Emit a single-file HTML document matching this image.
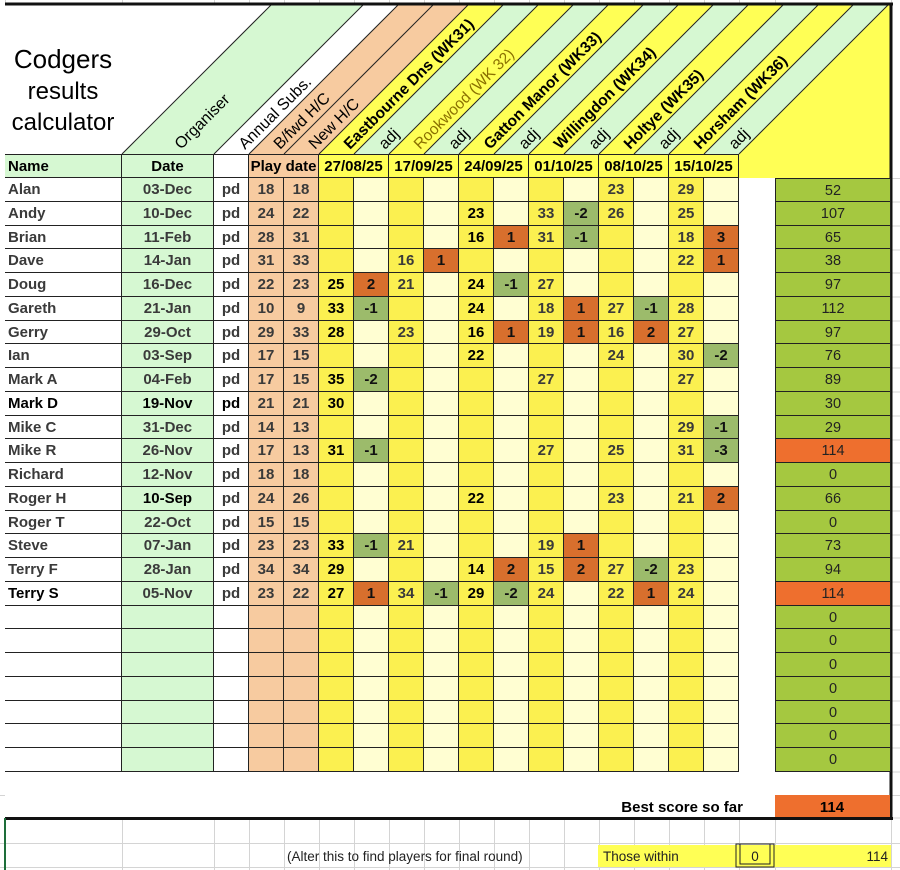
<!DOCTYPE html>
<html><head><meta charset="utf-8"><style>
*{margin:0;padding:0;box-sizing:border-box}
body{width:900px;height:870px;background:#fff;position:relative;overflow:hidden;font-family:"Liberation Sans",Arial,sans-serif}
.grid{position:absolute;left:5px;display:grid;grid-template-columns:117px 92px 35px 35px 35px repeat(12,35px) 36px 116px}
#body{top:178px;grid-auto-rows:23.76px}
#body>div{border-right:1px solid #222;border-bottom:1px solid #222;font-size:15px;font-weight:bold;color:#3a3a3a;text-align:center;line-height:23px;white-space:nowrap;overflow:hidden}
.n{text-align:left!important;padding-left:3px;background:#fff}
.d{background:#d6f8d2}.p{background:#fff}.h{background:#f7cba0}
.c{background:#fbf050}.a{background:#fffed2;color:#111!important}
.o{background:#d86f2d!important}.v{background:#9cbb6b!important}
.k{color:#000!important}
#body>.g{border:none!important;background:#fff}
#body>.t{border-left:1px solid #222;background:#a5c840;font-weight:normal!important;color:#222!important;font-size:14.5px!important;line-height:25px}
#body>.t.r{background:#ee6f2e}
#body>.t.f{border-top:1px solid #222}
#hdr{top:154px;grid-template-rows:24px}
#hdr>div{font-size:15px;font-weight:bold;color:#000;line-height:23px;text-align:center;border-right:1px solid #222;border-top:1px solid #222;border-bottom:1px solid #222;white-space:nowrap}
.abs{position:absolute}
</style></head><body>
<svg class="abs" style="left:0;top:0" width="900" height="870">
<g stroke="#d4d4d4" stroke-width="1">
<line x1="5.5" y1="0" x2="5.5" y2="870"/><line x1="122.5" y1="0" x2="122.5" y2="870"/><line x1="214.5" y1="0" x2="214.5" y2="870"/><line x1="249.5" y1="0" x2="249.5" y2="870"/><line x1="284.5" y1="0" x2="284.5" y2="870"/><line x1="319.5" y1="0" x2="319.5" y2="870"/><line x1="354.5" y1="0" x2="354.5" y2="870"/><line x1="389.5" y1="0" x2="389.5" y2="870"/><line x1="424.5" y1="0" x2="424.5" y2="870"/><line x1="459.5" y1="0" x2="459.5" y2="870"/><line x1="494.5" y1="0" x2="494.5" y2="870"/><line x1="529.5" y1="0" x2="529.5" y2="870"/><line x1="564.5" y1="0" x2="564.5" y2="870"/><line x1="599.5" y1="0" x2="599.5" y2="870"/><line x1="634.5" y1="0" x2="634.5" y2="870"/><line x1="669.5" y1="0" x2="669.5" y2="870"/><line x1="704.5" y1="0" x2="704.5" y2="870"/><line x1="739.5" y1="0" x2="739.5" y2="870"/><line x1="775.5" y1="0" x2="775.5" y2="870"/><line x1="891.5" y1="0" x2="891.5" y2="870"/>
<line x1="0" y1="795.5" x2="900" y2="795.5"/><line x1="0" y1="843.5" x2="900" y2="843.5"/><line x1="0" y1="867.5" x2="900" y2="867.5"/>
<line x1="891" y1="178.5" x2="900" y2="178.5"/><line x1="891" y1="202" x2="900" y2="202"/><line x1="891" y1="226" x2="900" y2="226"/><line x1="891" y1="250" x2="900" y2="250"/><line x1="891" y1="273" x2="900" y2="273"/><line x1="891" y1="297" x2="900" y2="297"/><line x1="891" y1="321" x2="900" y2="321"/><line x1="891" y1="345" x2="900" y2="345"/><line x1="891" y1="368" x2="900" y2="368"/><line x1="891" y1="392" x2="900" y2="392"/><line x1="891" y1="416" x2="900" y2="416"/><line x1="891" y1="440" x2="900" y2="440"/><line x1="891" y1="463" x2="900" y2="463"/><line x1="891" y1="487" x2="900" y2="487"/><line x1="891" y1="511" x2="900" y2="511"/><line x1="891" y1="535" x2="900" y2="535"/><line x1="891" y1="558" x2="900" y2="558"/><line x1="891" y1="582" x2="900" y2="582"/><line x1="891" y1="606" x2="900" y2="606"/><line x1="891" y1="630" x2="900" y2="630"/><line x1="891" y1="653" x2="900" y2="653"/><line x1="891" y1="677" x2="900" y2="677"/><line x1="891" y1="701" x2="900" y2="701"/><line x1="891" y1="725" x2="900" y2="725"/><line x1="891" y1="748" x2="900" y2="748"/><line x1="891" y1="772" x2="900" y2="772"/><line x1="891" y1="818" x2="900" y2="818"/>
</g>
<rect x="5" y="5" width="886" height="813" fill="#fff"/>
<g clip-path="url(#cp)">
<clipPath id="cp"><rect x="5" y="5" width="886" height="173"/></clipPath>
<polygon points="122,154 214,154 363,5 271,5" fill="#d6f8d2"/>
<polygon points="249,154 319,154 468,5 398,5" fill="#f7cba0"/>
<polygon points="319,154 354,154 503,5 468,5" fill="#ffff55"/>
<polygon points="354,154 389,154 538,5 503,5" fill="#d6f8d2"/>
<polygon points="389,154 424,154 573,5 538,5" fill="#ffff55"/>
<polygon points="424,154 459,154 608,5 573,5" fill="#d6f8d2"/>
<polygon points="459,154 494,154 643,5 608,5" fill="#ffff55"/>
<polygon points="494,154 529,154 678,5 643,5" fill="#d6f8d2"/>
<polygon points="529,154 564,154 713,5 678,5" fill="#ffff55"/>
<polygon points="564,154 599,154 748,5 713,5" fill="#d6f8d2"/>
<polygon points="599,154 634,154 783,5 748,5" fill="#ffff55"/>
<polygon points="634,154 669,154 818,5 783,5" fill="#d6f8d2"/>
<polygon points="669,154 704,154 853,5 818,5" fill="#ffff55"/>
<polygon points="704,154 739,154 888,5 853,5" fill="#d6f8d2"/>
<polygon points="739,154 891,154 891,5 888,5" fill="#ffff55"/>
<rect x="739" y="154" width="152" height="24" fill="#ffff55"/>
<g stroke="#222" stroke-width="1">
<line x1="122" y1="154" x2="271" y2="5"/><line x1="214" y1="154" x2="363" y2="5"/><line x1="249" y1="154" x2="398" y2="5"/><line x1="284" y1="154" x2="433" y2="5"/><line x1="319" y1="154" x2="468" y2="5"/><line x1="354" y1="154" x2="503" y2="5"/><line x1="389" y1="154" x2="538" y2="5"/><line x1="424" y1="154" x2="573" y2="5"/><line x1="459" y1="154" x2="608" y2="5"/><line x1="494" y1="154" x2="643" y2="5"/><line x1="529" y1="154" x2="678" y2="5"/><line x1="564" y1="154" x2="713" y2="5"/><line x1="599" y1="154" x2="748" y2="5"/><line x1="634" y1="154" x2="783" y2="5"/><line x1="669" y1="154" x2="818" y2="5"/><line x1="704" y1="154" x2="853" y2="5"/><line x1="739" y1="154" x2="888" y2="5"/>
</g>
<g font-family="Liberation Sans, Arial, sans-serif" font-size="16" fill="#000">
<text transform="translate(181,150) rotate(-45)">Organiser</text>
<text transform="translate(245,150) rotate(-45)">Annual Subs.</text>
<text transform="translate(280,150) rotate(-45)">B/fwd H/C</text>
<text transform="translate(315,150) rotate(-45)">New H/C</text>
<text transform="translate(350,150) rotate(-45)" font-weight="bold" font-size="15.5">Eastbourne Dns (WK31)</text>
<text transform="translate(385,150) rotate(-45)">adj</text>
<text transform="translate(420,150) rotate(-45)" fill="#8a7000" font-size="15.5">Rookwood (WK 32)</text>
<text transform="translate(455,150) rotate(-45)">adj</text>
<text transform="translate(490,150) rotate(-45)" font-weight="bold" font-size="15.5">Gatton Manor (WK33)</text>
<text transform="translate(525,150) rotate(-45)">adj</text>
<text transform="translate(560,150) rotate(-45)" font-weight="bold" font-size="15.5">Willingdon (WK34)</text>
<text transform="translate(595,150) rotate(-45)">adj</text>
<text transform="translate(630,150) rotate(-45)" font-weight="bold" font-size="15.5">Holtye (WK35)</text>
<text transform="translate(665,150) rotate(-45)">adj</text>
<text transform="translate(700,150) rotate(-45)" font-weight="bold" font-size="15.5">Horsham (WK36)</text>
<text transform="translate(735,150) rotate(-45)">adj</text>
</g>
</g>
<g font-family="Liberation Sans, Arial, sans-serif" font-size="26" fill="#000" text-anchor="middle">
<text x="63" y="68">Codgers</text><text x="63" y="99" font-size="24">results</text><text x="63" y="130" font-size="24">calculator</text>
</g>
<line x1="5" y1="154.5" x2="739" y2="154.5" stroke="#222"/>
<line x1="5" y1="4" x2="893" y2="4" stroke="#111" stroke-width="3"/>
<line x1="891" y1="3" x2="891" y2="819" stroke="#111" stroke-width="3"/>
<line x1="5" y1="818.5" x2="893" y2="818.5" stroke="#111" stroke-width="3"/>
<line x1="5" y1="818" x2="5" y2="870" stroke="#1e6e3a" stroke-width="2"/>
<rect x="775" y="795" width="115" height="22" fill="#ee6f2e"/>
<text x="832" y="812" text-anchor="middle" font-family="Liberation Sans, Arial, sans-serif" font-size="15" font-weight="bold">114</text>
<text x="743" y="812" text-anchor="end" font-family="Liberation Sans, Arial, sans-serif" font-size="15" font-weight="bold">Best score so far</text>
<text x="287" y="861" font-family="Liberation Sans, Arial, sans-serif" font-size="13.5" fill="#222">(Alter this to find players for final round)</text>
<rect x="598" y="845" width="293" height="22" fill="#ffff55"/>
<text x="603" y="861" font-family="Liberation Sans, Arial, sans-serif" font-size="13.5" fill="#222">Those within</text>
<rect x="736" y="844" width="38" height="23" fill="none" stroke="#222" stroke-width="1"/>
<rect x="740" y="844" width="30" height="20" fill="none" stroke="#222" stroke-width="1"/>
<text x="755" y="861" text-anchor="middle" font-family="Liberation Sans, Arial, sans-serif" font-size="13.5" fill="#222">0</text>
<text x="888" y="861" text-anchor="end" font-family="Liberation Sans, Arial, sans-serif" font-size="13.5" fill="#222">114</text>
</svg>

<div id="hdr" class="grid">
<div style="background:#d6f8d2;text-align:left;padding-left:3px">Name</div>
<div style="background:#d6f8d2">Date</div>
<div style="background:#fff"></div>
<div style="background:#f7cba0;grid-column:span 2">Play date</div>
<div style="background:#ffff55;grid-column:span 2">27/08/25</div>
<div style="background:#ffff55;grid-column:span 2">17/09/25</div>
<div style="background:#ffff55;grid-column:span 2">24/09/25</div>
<div style="background:#ffff55;grid-column:span 2">01/10/25</div>
<div style="background:#ffff55;grid-column:span 2">08/10/25</div>
<div style="background:#ffff55;grid-column:span 2">15/10/25</div>
</div>

<div id="body" class="grid">
<div class="n">Alan</div><div class="d">03-Dec</div><div class="p">pd</div><div class="h">18</div><div class="h">18</div><div class="c"></div><div class="a"></div><div class="c"></div><div class="a"></div><div class="c"></div><div class="a"></div><div class="c"></div><div class="a"></div><div class="c">23</div><div class="a"></div><div class="c">29</div><div class="a"></div><div class="g"></div><div class="t f">52</div>
<div class="n">Andy</div><div class="d">10-Dec</div><div class="p">pd</div><div class="h">24</div><div class="h">22</div><div class="c"></div><div class="a"></div><div class="c"></div><div class="a"></div><div class="c k">23</div><div class="a"></div><div class="c">33</div><div class="a v">-2</div><div class="c">26</div><div class="a"></div><div class="c">25</div><div class="a"></div><div class="g"></div><div class="t">107</div>
<div class="n">Brian</div><div class="d">11-Feb</div><div class="p">pd</div><div class="h">28</div><div class="h">31</div><div class="c"></div><div class="a"></div><div class="c"></div><div class="a"></div><div class="c k">16</div><div class="a o">1</div><div class="c">31</div><div class="a v">-1</div><div class="c"></div><div class="a"></div><div class="c">18</div><div class="a o">3</div><div class="g"></div><div class="t">65</div>
<div class="n">Dave</div><div class="d">14-Jan</div><div class="p">pd</div><div class="h">31</div><div class="h">33</div><div class="c"></div><div class="a"></div><div class="c">16</div><div class="a o">1</div><div class="c"></div><div class="a"></div><div class="c"></div><div class="a"></div><div class="c"></div><div class="a"></div><div class="c">22</div><div class="a o">1</div><div class="g"></div><div class="t">38</div>
<div class="n">Doug</div><div class="d">16-Dec</div><div class="p">pd</div><div class="h">22</div><div class="h">23</div><div class="c k">25</div><div class="a o">2</div><div class="c">21</div><div class="a"></div><div class="c k">24</div><div class="a v">-1</div><div class="c">27</div><div class="a"></div><div class="c"></div><div class="a"></div><div class="c"></div><div class="a"></div><div class="g"></div><div class="t">97</div>
<div class="n">Gareth</div><div class="d">21-Jan</div><div class="p">pd</div><div class="h">10</div><div class="h">9</div><div class="c k">33</div><div class="a v">-1</div><div class="c"></div><div class="a"></div><div class="c k">24</div><div class="a"></div><div class="c">18</div><div class="a o">1</div><div class="c">27</div><div class="a v">-1</div><div class="c">28</div><div class="a"></div><div class="g"></div><div class="t">112</div>
<div class="n">Gerry</div><div class="d">29-Oct</div><div class="p">pd</div><div class="h">29</div><div class="h">33</div><div class="c k">28</div><div class="a"></div><div class="c">23</div><div class="a"></div><div class="c k">16</div><div class="a o">1</div><div class="c">19</div><div class="a o">1</div><div class="c">16</div><div class="a o">2</div><div class="c">27</div><div class="a"></div><div class="g"></div><div class="t">97</div>
<div class="n">Ian</div><div class="d">03-Sep</div><div class="p">pd</div><div class="h">17</div><div class="h">15</div><div class="c"></div><div class="a"></div><div class="c"></div><div class="a"></div><div class="c k">22</div><div class="a"></div><div class="c"></div><div class="a"></div><div class="c">24</div><div class="a"></div><div class="c">30</div><div class="a v">-2</div><div class="g"></div><div class="t">76</div>
<div class="n">Mark A</div><div class="d">04-Feb</div><div class="p">pd</div><div class="h">17</div><div class="h">15</div><div class="c k">35</div><div class="a v">-2</div><div class="c"></div><div class="a"></div><div class="c"></div><div class="a"></div><div class="c">27</div><div class="a"></div><div class="c"></div><div class="a"></div><div class="c">27</div><div class="a"></div><div class="g"></div><div class="t">89</div>
<div class="n k">Mark D</div><div class="d k">19-Nov</div><div class="p k">pd</div><div class="h">21</div><div class="h">21</div><div class="c k">30</div><div class="a"></div><div class="c"></div><div class="a"></div><div class="c"></div><div class="a"></div><div class="c"></div><div class="a"></div><div class="c"></div><div class="a"></div><div class="c"></div><div class="a"></div><div class="g"></div><div class="t">30</div>
<div class="n">Mike C</div><div class="d">31-Dec</div><div class="p">pd</div><div class="h">14</div><div class="h">13</div><div class="c"></div><div class="a"></div><div class="c"></div><div class="a"></div><div class="c"></div><div class="a"></div><div class="c"></div><div class="a"></div><div class="c"></div><div class="a"></div><div class="c">29</div><div class="a v">-1</div><div class="g"></div><div class="t">29</div>
<div class="n">Mike R</div><div class="d">26-Nov</div><div class="p">pd</div><div class="h">17</div><div class="h">13</div><div class="c k">31</div><div class="a v">-1</div><div class="c"></div><div class="a"></div><div class="c"></div><div class="a"></div><div class="c">27</div><div class="a"></div><div class="c">25</div><div class="a"></div><div class="c">31</div><div class="a v">-3</div><div class="g"></div><div class="t r">114</div>
<div class="n">Richard</div><div class="d">12-Nov</div><div class="p">pd</div><div class="h">18</div><div class="h">18</div><div class="c"></div><div class="a"></div><div class="c"></div><div class="a"></div><div class="c"></div><div class="a"></div><div class="c"></div><div class="a"></div><div class="c"></div><div class="a"></div><div class="c"></div><div class="a"></div><div class="g"></div><div class="t">0</div>
<div class="n">Roger H</div><div class="d k">10-Sep</div><div class="p">pd</div><div class="h">24</div><div class="h">26</div><div class="c"></div><div class="a"></div><div class="c"></div><div class="a"></div><div class="c k">22</div><div class="a"></div><div class="c"></div><div class="a"></div><div class="c">23</div><div class="a"></div><div class="c">21</div><div class="a o">2</div><div class="g"></div><div class="t">66</div>
<div class="n">Roger T</div><div class="d">22-Oct</div><div class="p">pd</div><div class="h">15</div><div class="h">15</div><div class="c"></div><div class="a"></div><div class="c"></div><div class="a"></div><div class="c"></div><div class="a"></div><div class="c"></div><div class="a"></div><div class="c"></div><div class="a"></div><div class="c"></div><div class="a"></div><div class="g"></div><div class="t">0</div>
<div class="n">Steve</div><div class="d">07-Jan</div><div class="p">pd</div><div class="h">23</div><div class="h">23</div><div class="c k">33</div><div class="a v">-1</div><div class="c">21</div><div class="a"></div><div class="c"></div><div class="a"></div><div class="c">19</div><div class="a o">1</div><div class="c"></div><div class="a"></div><div class="c"></div><div class="a"></div><div class="g"></div><div class="t">73</div>
<div class="n">Terry F</div><div class="d">28-Jan</div><div class="p">pd</div><div class="h">34</div><div class="h">34</div><div class="c k">29</div><div class="a"></div><div class="c"></div><div class="a"></div><div class="c k">14</div><div class="a o">2</div><div class="c">15</div><div class="a o">2</div><div class="c">27</div><div class="a v">-2</div><div class="c">23</div><div class="a"></div><div class="g"></div><div class="t">94</div>
<div class="n k">Terry S</div><div class="d">05-Nov</div><div class="p">pd</div><div class="h">23</div><div class="h">22</div><div class="c k">27</div><div class="a o">1</div><div class="c">34</div><div class="a v">-1</div><div class="c k">29</div><div class="a v">-2</div><div class="c">24</div><div class="a"></div><div class="c">22</div><div class="a o">1</div><div class="c">24</div><div class="a"></div><div class="g"></div><div class="t r">114</div>
<div class="n"></div><div class="d"></div><div class="p"></div><div class="h"></div><div class="h"></div><div class="c"></div><div class="a"></div><div class="c"></div><div class="a"></div><div class="c"></div><div class="a"></div><div class="c"></div><div class="a"></div><div class="c"></div><div class="a"></div><div class="c"></div><div class="a"></div><div class="g"></div><div class="t">0</div>
<div class="n"></div><div class="d"></div><div class="p"></div><div class="h"></div><div class="h"></div><div class="c"></div><div class="a"></div><div class="c"></div><div class="a"></div><div class="c"></div><div class="a"></div><div class="c"></div><div class="a"></div><div class="c"></div><div class="a"></div><div class="c"></div><div class="a"></div><div class="g"></div><div class="t">0</div>
<div class="n"></div><div class="d"></div><div class="p"></div><div class="h"></div><div class="h"></div><div class="c"></div><div class="a"></div><div class="c"></div><div class="a"></div><div class="c"></div><div class="a"></div><div class="c"></div><div class="a"></div><div class="c"></div><div class="a"></div><div class="c"></div><div class="a"></div><div class="g"></div><div class="t">0</div>
<div class="n"></div><div class="d"></div><div class="p"></div><div class="h"></div><div class="h"></div><div class="c"></div><div class="a"></div><div class="c"></div><div class="a"></div><div class="c"></div><div class="a"></div><div class="c"></div><div class="a"></div><div class="c"></div><div class="a"></div><div class="c"></div><div class="a"></div><div class="g"></div><div class="t">0</div>
<div class="n"></div><div class="d"></div><div class="p"></div><div class="h"></div><div class="h"></div><div class="c"></div><div class="a"></div><div class="c"></div><div class="a"></div><div class="c"></div><div class="a"></div><div class="c"></div><div class="a"></div><div class="c"></div><div class="a"></div><div class="c"></div><div class="a"></div><div class="g"></div><div class="t">0</div>
<div class="n"></div><div class="d"></div><div class="p"></div><div class="h"></div><div class="h"></div><div class="c"></div><div class="a"></div><div class="c"></div><div class="a"></div><div class="c"></div><div class="a"></div><div class="c"></div><div class="a"></div><div class="c"></div><div class="a"></div><div class="c"></div><div class="a"></div><div class="g"></div><div class="t">0</div>
<div class="n"></div><div class="d"></div><div class="p"></div><div class="h"></div><div class="h"></div><div class="c"></div><div class="a"></div><div class="c"></div><div class="a"></div><div class="c"></div><div class="a"></div><div class="c"></div><div class="a"></div><div class="c"></div><div class="a"></div><div class="c"></div><div class="a"></div><div class="g"></div><div class="t">0</div>
</div>
</body></html>
